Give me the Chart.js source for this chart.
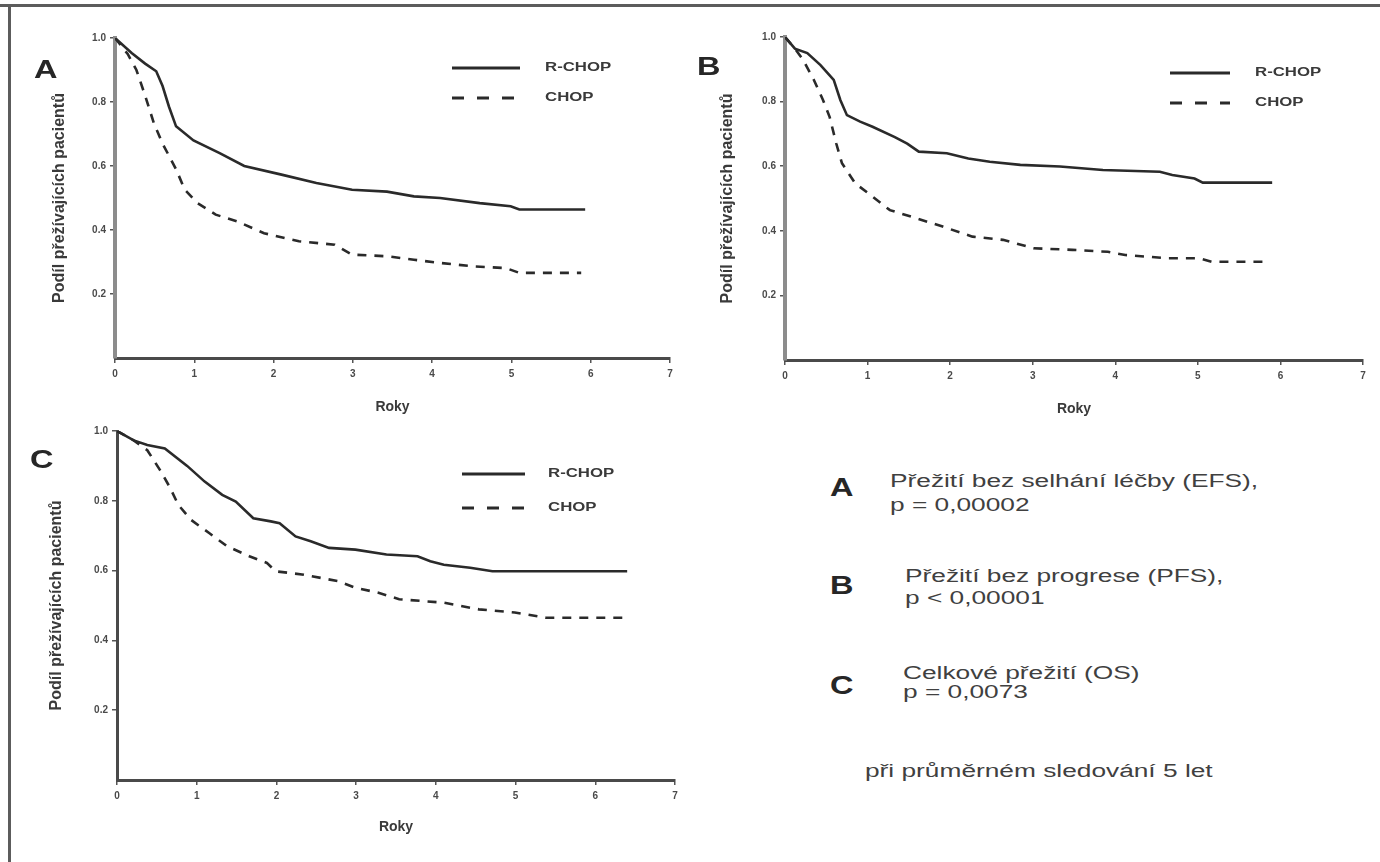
<!DOCTYPE html>
<html>
<head>
<meta charset="utf-8">
<script src="https://cdn.jsdelivr.net/npm/chart.js@4"></script>
<style>
  body { margin: 0; width: 1380px; height: 862px; background: #fff; position: relative; overflow: hidden;
         font-family: "Liberation Sans", Arial, sans-serif; color: #3c3c3c; }
  canvas { position: absolute; }
  .rule { position: absolute; background: #5c5c5c; }
  .letter { position: absolute; font-weight: bold; font-size: 26px; line-height: 26px; color: #262626;
            transform: scaleX(1.25); transform-origin: 0 50%; }
  .note { position: absolute; font-size: 18px; line-height: 22px; white-space: nowrap; color: #404040;
          transform: scaleX(1.46); transform-origin: 0 50%; }
</style>
</head>
<body>
<div class="rule" style="left:0;top:4px;width:1380px;height:3px"></div>
<div class="rule" style="left:8px;top:4px;width:3px;height:858px"></div>

<canvas id="chartA" width="690" height="430" style="left:0;top:0"></canvas>
<canvas id="chartB" width="690" height="430" style="left:690px;top:0"></canvas>
<canvas id="chartC" width="700" height="442" style="left:0;top:420px"></canvas>

<div class="letter" style="left:34px;top:56px">A</div>
<div class="letter" style="left:697px;top:53px">B</div>
<div class="letter" style="left:30px;top:446px">C</div>

<div class="letter" style="left:830px;top:474px">A</div>
<div class="note" style="left:890px;top:470px">Přežití bez selhání léčby (EFS),</div>
<div class="note" style="left:890px;top:494px">p = 0,00002</div>

<div class="letter" style="left:830px;top:572px">B</div>
<div class="note" style="left:905px;top:565px">Přežití bez progrese (PFS),</div>
<div class="note" style="left:905px;top:587px">p &lt; 0,00001</div>

<div class="letter" style="left:830px;top:672px">C</div>
<div class="note" style="left:903px;top:662px">Celkové přežití (OS)</div>
<div class="note" style="left:903px;top:681px">p = 0,0073</div>

<div class="note" style="left:865px;top:760px">při průměrném sledování 5 let</div>

<script>
// survival curves, time in years
const seriesNames = ['R-CHOP', 'CHOP'];

// A: EFS
const yearsA_R = [0, 0.21, 0.38, 0.52, 0.6, 0.68, 0.77, 0.99, 1.32, 1.63, 2.1, 2.54, 2.99, 3.43, 3.77, 4.1, 4.6, 4.99, 5.1, 5.93];
const survA_R  = [1.0, 0.953, 0.92, 0.896, 0.85, 0.786, 0.724, 0.68, 0.64, 0.6, 0.573, 0.547, 0.526, 0.52, 0.505, 0.5, 0.484, 0.474, 0.464, 0.464];
const yearsA_C = [0, 0.16, 0.27, 0.38, 0.49, 0.6, 0.77, 0.88, 1.04, 1.27, 1.54, 1.88, 2.32, 2.77, 2.99, 3.43, 3.77, 4.1, 4.54, 4.93, 5.1, 5.88];
const survA_C  = [1.0, 0.95, 0.9, 0.82, 0.734, 0.67, 0.59, 0.526, 0.484, 0.448, 0.427, 0.39, 0.365, 0.354, 0.323, 0.318, 0.307, 0.297, 0.286, 0.281, 0.266, 0.266];

// B: PFS
const yearsB_R = [0, 0.12, 0.27, 0.43, 0.59, 0.67, 0.75, 0.91, 1.06, 1.33, 1.48, 1.62, 1.96, 2.22, 2.48, 2.85, 3.33, 3.85, 4.54, 4.69, 4.96, 5.06, 5.9];
const survB_R  = [1.0, 0.964, 0.95, 0.913, 0.867, 0.805, 0.758, 0.738, 0.722, 0.69, 0.67, 0.645, 0.64, 0.624, 0.614, 0.604, 0.599, 0.588, 0.583, 0.573, 0.562, 0.549, 0.549];
const yearsB_C = [0, 0.12, 0.22, 0.35, 0.46, 0.54, 0.62, 0.69, 0.85, 1.06, 1.27, 1.59, 1.91, 2.27, 2.64, 3.01, 3.48, 3.91, 4.12, 4.64, 5.01, 5.17, 5.8];
const survB_C  = [1.0, 0.964, 0.929, 0.867, 0.805, 0.753, 0.671, 0.609, 0.547, 0.506, 0.464, 0.439, 0.413, 0.382, 0.372, 0.346, 0.341, 0.335, 0.325, 0.315, 0.315, 0.304, 0.304];

// C: OS
const yearsC_R = [0, 0.21, 0.38, 0.6, 0.88, 1.1, 1.32, 1.49, 1.71, 1.93, 2.04, 2.24, 2.43, 2.66, 2.99, 3.38, 3.77, 3.93, 4.1, 4.43, 4.71, 6.4];
const survC_R  = [1.0, 0.973, 0.96, 0.95, 0.9, 0.855, 0.817, 0.798, 0.75, 0.741, 0.736, 0.698, 0.684, 0.665, 0.66, 0.646, 0.641, 0.627, 0.617, 0.608, 0.598, 0.598];
const yearsC_C = [0, 0.21, 0.38, 0.54, 0.66, 0.77, 0.93, 1.16, 1.38, 1.66, 1.88, 1.99, 2.32, 2.77, 2.99, 3.27, 3.54, 4.1, 4.54, 4.99, 5.38, 6.4];
const survC_C  = [1.0, 0.973, 0.945, 0.888, 0.84, 0.788, 0.745, 0.707, 0.67, 0.641, 0.622, 0.598, 0.589, 0.57, 0.551, 0.537, 0.518, 0.508, 0.489, 0.48, 0.465, 0.465];

const yTickValues = [0.2, 0.4, 0.6, 0.8, 1.0];
const xTickValues = [0, 1, 2, 3, 4, 5, 6, 7];

const yTitle = 'Podíl přežívajících pacientů';
const xTitle = 'Roky';

const ink = '#2a2a2a';
const fontFamily = '"Liberation Sans", Arial, sans-serif';

// two-line legend (solid / dashed) at a fixed spot inside each canvas
const kmLegend = {
  id: 'kmLegend',
  afterDraw(chart, args, opts) {
    const ctx = chart.ctx;
    ctx.save();
    chart.data.datasets.forEach((ds, i) => {
      const y = opts.y + i * opts.gap;
      ctx.strokeStyle = ds.borderColor;
      ctx.lineWidth = 2.8;
      ctx.setLineDash(ds.borderDash && ds.borderDash.length ? [12, 13] : []);
      ctx.beginPath();
      ctx.moveTo(opts.x, y);
      ctx.lineTo(opts.x + opts.len, y);
      ctx.stroke();
      ctx.setLineDash([]);
      ctx.save();
      ctx.translate(opts.x + opts.len + opts.textGap, y);
      ctx.scale(1.4, 1);
      ctx.fillStyle = '#3a3a3a';
      ctx.font = 'bold 12px ' + fontFamily;
      ctx.textBaseline = 'middle';
      ctx.fillText(ds.label, 0, 0);
      ctx.restore();
    });
    ctx.restore();
  }
};

function toPoints(xs, ys) {
  return xs.map((x, i) => ({ x: x, y: ys[i] }));
}

function makePanel(id, rX, rY, cX, cY, lay) {
  return new Chart(document.getElementById(id), {
    type: 'line',
    data: {
      datasets: [{
        label: seriesNames[0],
        data: toPoints(rX, rY),
        borderColor: ink,
        borderWidth: 2.6,
        pointRadius: 0,
        tension: 0
      }, {
        label: seriesNames[1],
        data: toPoints(cX, cY),
        borderColor: ink,
        borderWidth: 2.6,
        borderDash: [9, 8],
        pointRadius: 0,
        tension: 0
      }]
    },
    plugins: [kmLegend],
    options: {
      responsive: false,
      animation: false,
      layout: { padding: lay.padding },
      plugins: {
        legend: { display: false },
        tooltip: { enabled: false },
        kmLegend: lay.legend
      },
      scales: {
        x: {
          type: 'linear',
          min: 0,
          max: 7,
          afterBuildTicks: s => { s.ticks = xTickValues.map(v => ({ value: v })); },
          afterFit: s => { s.height = lay.xHeight; },
          border: { color: '#4a4a4a', width: 3 },
          grid: { drawOnChartArea: false, drawTicks: true, tickLength: 5, color: '#555', lineWidth: 1.5 },
          ticks: { color: '#4a4a4a', padding: 5, font: { size: 10, weight: 'bold', family: fontFamily } },
          title: { display: true, text: xTitle, color: '#3a3a3a', padding: 0,
                   font: { size: 14, weight: 'bold', family: fontFamily } }
        },
        y: {
          min: 0,
          max: 1,
          afterBuildTicks: s => { s.ticks = yTickValues.map(v => ({ value: v })); },
          afterFit: s => { s.width = lay.yWidth; },
          border: { color: lay.yAxisColor, width: lay.yAxisWidth },
          grid: { drawOnChartArea: false, drawTicks: true, tickLength: 5, color: '#555', lineWidth: 1.5 },
          ticks: { color: '#4a4a4a', padding: 4, font: { size: 10, weight: 'bold', family: fontFamily },
                   callback: v => v.toFixed(1) },
          title: { display: true, text: yTitle, color: '#3a3a3a', padding: 0,
                   font: { size: 16, weight: 'bold', family: fontFamily } }
        }
      }
    }
  });
}

makePanel('chartA', yearsA_R, survA_R, yearsA_C, survA_C, {
  padding: { left: 50, top: 38, right: 20, bottom: 14 },
  yWidth: 65, xHeight: 58, yAxisColor: '#8c8c8c', yAxisWidth: 4,
  legend: { x: 452, y: 68, gap: 30, len: 68, textGap: 25 }
});

makePanel('chartB', yearsB_R, survB_R, yearsB_C, survB_C, {
  padding: { left: 28, top: 37, right: 17, bottom: 12 },
  yWidth: 67, xHeight: 58, yAxisColor: '#8c8c8c', yAxisWidth: 4,
  legend: { x: 480, y: 73, gap: 30, len: 60, textGap: 25 }
});

makePanel('chartC', yearsC_R, survC_R, yearsC_C, survC_C, {
  padding: { left: 47, top: 11, right: 25, bottom: 26 },
  yWidth: 70, xHeight: 56, yAxisColor: '#4a4a4a', yAxisWidth: 3,
  legend: { x: 462, y: 54, gap: 34, len: 63, textGap: 23 }
});
</script>
</body>
</html>
